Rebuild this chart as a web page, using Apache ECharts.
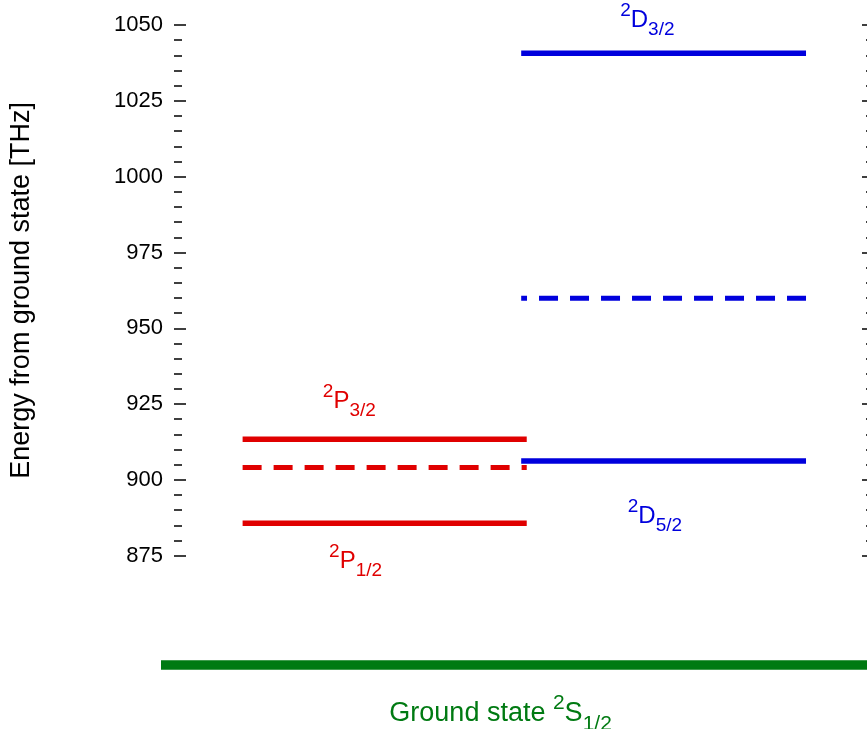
<!DOCTYPE html>
<html><head><meta charset="utf-8">
<script src="https://cdn.jsdelivr.net/npm/echarts@6/dist/echarts.min.js"></script>
<style>html,body{margin:0;padding:0;background:#fff}#c{width:867px;height:729px}</style>
</head><body><div id="c"></div>
<script>
// ---- data ----
const yMin = 875, yMax = 1050, yStep = 25;
const axisTitle = 'Energy from ground state [THz]';
const redSpan = [9.9, 50.9];          // 2P levels, x extent (left to right)
const blueSpan = [91.2, 50.1];        // 2D levels, x extent (drawn right to left)
const groundSpan = [0, 100];
const redSolidLevels = [885.7, 913.4];   // 2P1/2, 2P3/2
const redDashedLevels = [904.1];
const blueSolidLevels = [906.2, 1040.7]; // 2D5/2, 2D3/2
const blueDashedLevels = [959.9];
const groundLevels = [0];
const redLabelSup = ['2', '2'], redLabelMain = ['P', 'P'], redLabelSub = ['1/2', '3/2'];
const redLabelX = [26.2, 25.3], redLabelY = [873.1, 925.8];
const blueLabelSup = ['2', '2'], blueLabelMain = ['D', 'D'], blueLabelSub = ['5/2', '3/2'];
const blueLabelX = [69.4, 68.3], blueLabelY = [887.9, 1051.4];
const groundLabelPre = ['Ground state '], groundLabelSup = ['2'], groundLabelMain = ['S'], groundLabelSub = ['1/2'];
const groundLabelX = [48.1], groundLabelY = [-16.1];

// ---- style ----
const RED = '#e00000', BLUE = '#0000dd', GREEN = '#007a12';
const FONT = '"Liberation Sans", Arial, sans-serif';

function levelSeries(levels, span, color, dashed, width, xi, yi) {
  return levels.map(v => ({
    type: 'line', xAxisIndex: xi, yAxisIndex: yi, silent: true, clip: false,
    symbol: 'none', showSymbol: false, animation: false,
    data: [[span[0], v], [span[1], v]],
    lineStyle: { color: color, width: width, type: dashed ? [19, 12] : 'solid', cap: 'butt' }
  }));
}
function labelSeries(xs, ys, texts, color, rich, xi, yi) {
  return {
    type: 'scatter', xAxisIndex: xi, yAxisIndex: yi, silent: true, clip: false, animation: false,
    symbolSize: 1, itemStyle: { color: 'rgba(0,0,0,0)' },
    data: xs.map((x, i) => [x, ys[i]]),
    label: { show: true, position: 'inside', color: color, fontFamily: FONT, opacity: 1,
      textBorderWidth: 0, textShadowBlur: 0,
      formatter: p => texts[p.dataIndex], rich: rich }
  };
}
function richSet(color, tSize, mSize, sSize, L, supH, subH) {
  return {
    t: { fontSize: tSize, lineHeight: L, fontFamily: FONT, color: color, textBorderWidth: 0 },
    s: { fontSize: sSize, lineHeight: supH, verticalAlign: 'top', fontFamily: FONT, color: color, textBorderWidth: 0 },
    m: { fontSize: mSize, lineHeight: L, fontFamily: FONT, color: color, textBorderWidth: 0 },
    b: { fontSize: sSize, lineHeight: subH, verticalAlign: 'bottom', fontFamily: FONT, color: color, textBorderWidth: 0 }
  };
}
const redTexts = redLabelMain.map((m, i) => '{s|' + redLabelSup[i] + '}{m|' + m + '}{b|' + redLabelSub[i] + '}');
const blueTexts = blueLabelMain.map((m, i) => '{s|' + blueLabelSup[i] + '}{m|' + m + '}{b|' + blueLabelSub[i] + '}');
const groundTexts = groundLabelMain.map((m, i) => '{t|' + groundLabelPre[i] + '}{s|' + groundLabelSup[i] + '}{m|' + m + '}{b|' + groundLabelSub[i] + '}');

const yAxisBase = {
  type: 'value', min: yMin, max: yMax, interval: yStep, gridIndex: 0,
  axisLine: { show: false }, splitLine: { show: false },
  axisTick: { show: true, inside: true, length: 12, lineStyle: { color: '#000', width: 1.5 } },
  minorTick: { show: true, splitNumber: 5, length: 8, lineStyle: { color: '#000', width: 1.5 } }
};

const chart = echarts.init(document.getElementById('c'), null, { renderer: 'canvas' });
chart.setOption({
  animation: false,
  backgroundColor: '#fff',
  grid: [
    { left: 173, right: 0, top: 25, height: 530.7 },
    { left: 161, right: 0, top: 615, height: 100 }
  ],
  xAxis: [
    { type: 'value', gridIndex: 0, min: 0, max: 100, show: false },
    { type: 'value', gridIndex: 1, min: 0, max: 100, show: false }
  ],
  yAxis: [
    Object.assign({}, yAxisBase, {
      position: 'left',
      axisLabel: { show: true, margin: 11, fontSize: 22, color: '#000', fontFamily: FONT,
        formatter: v => String(v) },
      name: axisTitle, nameLocation: 'middle', nameRotate: 90, nameGap: 139,
      nameTextStyle: { fontSize: 27, color: '#000', fontFamily: FONT }
    }),
    Object.assign({}, yAxisBase, { position: 'right', offset: 7, axisLabel: { show: false } }),
    { type: 'value', gridIndex: 1, min: -16.5, max: 16.5, show: false }
  ],
  series: [].concat(
    levelSeries(redSolidLevels, redSpan, RED, false, 5.5, 0, 0),
    levelSeries(redDashedLevels, redSpan, RED, true, 5, 0, 0),
    levelSeries(blueSolidLevels, blueSpan, BLUE, false, 5.5, 0, 0),
    levelSeries(blueDashedLevels, blueSpan, BLUE, true, 5, 0, 0),
    levelSeries(groundLevels, groundSpan, GREEN, false, 9.5, 1, 2),
    [labelSeries(redLabelX, redLabelY, redTexts, RED, richSet(RED, 24, 24, 19, 38, 13, 22), 0, 0),
     labelSeries(blueLabelX, blueLabelY, blueTexts, BLUE, richSet(BLUE, 24, 24, 19, 38, 13, 22), 0, 0),
     labelSeries(groundLabelX, groundLabelY, groundTexts, GREEN, richSet(GREEN, 27, 27, 21, 42, 23, 24), 1, 2)]
  )
});
</script>
</body></html>
